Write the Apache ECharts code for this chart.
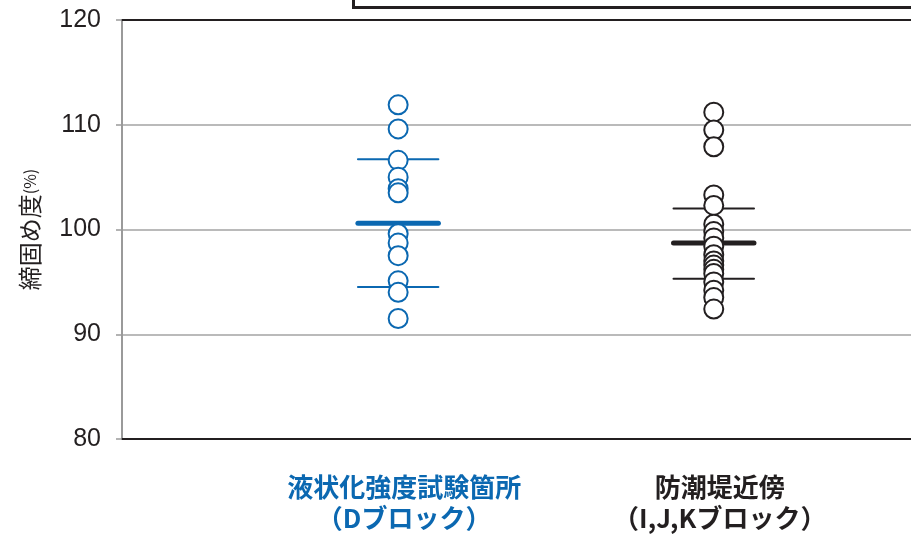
<!DOCTYPE html>
<html>
<head>
<meta charset="utf-8">
<script src="https://cdn.jsdelivr.net/npm/echarts@6/dist/echarts.min.js"></script>
<style>
  html, body { margin: 0; padding: 0; background: #fff; }
  #chart { width: 911px; height: 534px; }
</style>
</head>
<body>
<div id="chart"></div>
<script>
// カテゴリ（x位置は値軸上の位置）
const categories = ["液状化強度試験箇所\n（Dブロック）", "防潮堤近傍\n（I,J,Kブロック）"];
const categoryPos = [3.5, 7.5];
const categoryColors = ["#0b68b1", "#231f20"];

// 締固め度の測定値
const blueValues = [111.9, 109.6, 106.6, 105.0, 103.9, 103.5, 99.6, 98.7, 97.5, 95.1, 94.0, 91.5];
const blackValues = [111.2, 109.5, 107.9, 103.3, 102.3, 100.5, 99.8, 99.2, 98.4, 97.6, 97.0, 96.6, 96.2, 95.8, 95.0, 94.2, 93.5, 92.4];

// 平均値と ±σ
const meanValues = [100.6, 98.7];
const upperValues = [106.7, 102.0];
const lowerValues = [94.5, 95.3];

const yMin = 80;
const yMax = 120;
const yInterval = 10;

const chart = echarts.init(document.getElementById("chart"));

const statData = [];
categoryPos.forEach((p, i) => {
  statData.push([p, meanValues[i], 0, i]);
  statData.push([p, upperValues[i], 1, i]);
  statData.push([p, lowerValues[i], 1, i]);
});

const labelStyle = (color) => ({
  color: color,
  fontSize: 26,
  fontWeight: "bold",
  lineHeight: 31,
  fontFamily: "Noto Sans CJK JP",
  padding: [0, 0, 0, 12],
});

const option = {
  animation: false,
  grid: { left: 122, right: 0, top: 20, bottom: 95 },
  xAxis: [
    {
      type: "value",
      min: 0,
      max: 10,
      splitLine: { show: false },
      axisLine: { show: true, onZero: false, lineStyle: { color: "#231f20", width: 2 } },
      axisTick: { show: false },
      axisLabel: {
        customValues: categoryPos,
        margin: 33,
        lineHeight: 31,
        formatter: (v) => {
          const i = categoryPos.indexOf(v);
          if (i < 0) return "";
          const key = i === 0 ? "b" : "k";
          return categories[i].split("\n").map((s) => "{" + key + "|" + s + "}").join("\n");
        },
        rich: {
          b: labelStyle(categoryColors[0]),
          k: labelStyle(categoryColors[1]),
        },
      },
    },
    {
      type: "value",
      position: "top",
      min: 0,
      max: 10,
      splitLine: { show: false },
      axisLine: { show: true, onZero: false, lineStyle: { color: "#231f20", width: 2 } },
      axisTick: { show: false },
      axisLabel: { show: false },
    },
  ],
  yAxis: {
    type: "value",
    min: yMin,
    max: yMax,
    interval: yInterval,
    name: "{a|締固め度}{p|(%)}",
    nameLocation: "middle",
    nameRotate: 90,
    nameGap: 80,
    nameTextStyle: {
      rich: {
        a: { fontSize: 24, color: "#231f20", fontFamily: "Noto Sans CJK JP" },
        p: { fontSize: 16, color: "#231f20", fontFamily: "Noto Sans CJK JP" },
      },
    },
    axisLine: { show: true, lineStyle: { color: "#9a9a9a", width: 2 } },
    axisTick: { show: true, length: 6, lineStyle: { color: "#9a9a9a", width: 1.5 } },
    axisLabel: { fontSize: 25, color: "#231f20", margin: 21, fontFamily: "Liberation Sans" },
    splitLine: { show: true, lineStyle: { color: "#a3a3a3", width: 1.5 } },
  },
  graphic: [
    {
      type: "rect",
      left: 352,
      top: -20,
      shape: { width: 620, height: 26 },
      style: { fill: "#fff", stroke: "#231f20", lineWidth: 3 },
      z: 100,
    },
  ],
  series: [
    {
      type: "custom",
      z: 2,
      data: statData,
      renderItem: (params, api) => {
        const x = api.value(0);
        const y = api.value(1);
        const kind = api.value(2);
        const ci = api.value(3);
        const a = api.coord([x - 0.51, y]);
        const b = api.coord([x + 0.51, y]);
        return {
          type: "line",
          shape: { x1: a[0], y1: a[1], x2: b[0], y2: b[1] },
          style: {
            stroke: categoryColors[ci],
            lineWidth: kind === 0 ? 5 : 2,
            lineCap: "round",
          },
        };
      },
    },
    {
      type: "scatter",
      z: 3,
      symbol: "circle",
      symbolSize: 19,
      data: blueValues.map((v) => [categoryPos[0], v]),
      itemStyle: { color: "#fff", borderColor: categoryColors[0], borderWidth: 2, opacity: 1 },
    },
    {
      type: "scatter",
      z: 3,
      symbol: "circle",
      symbolSize: 19,
      data: blackValues.map((v) => [categoryPos[1], v]),
      itemStyle: { color: "#fff", borderColor: categoryColors[1], borderWidth: 2, opacity: 1 },
    },
  ],
};

chart.setOption(option);
</script>
</body>
</html>
